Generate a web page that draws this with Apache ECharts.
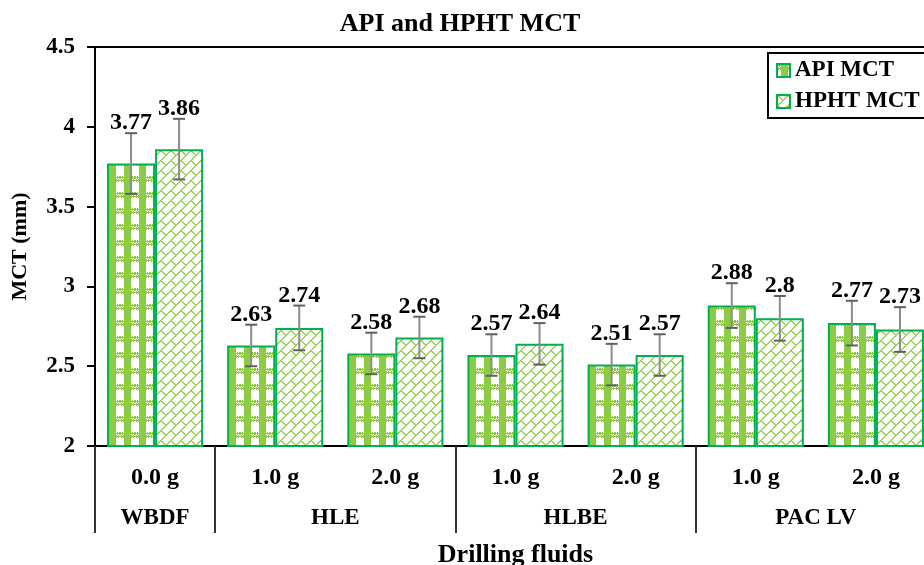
<!DOCTYPE html>
<html><head><meta charset="utf-8">
<script src="https://cdn.jsdelivr.net/npm/echarts@6/dist/echarts.min.js"></script>
<style>html,body{margin:0;padding:0;background:#fff;overflow:hidden}#c{width:924px;height:565px}</style>
</head><body><div id="c"></div>
<script>
const categories = ['0.0 g','1.0 g','2.0 g','1.0 g','2.0 g','1.0 g','2.0 g'];
const groupLabels = ['WBDF','HLE','HLBE','PAC LV'];
const apiValues = [3.77, 2.63, 2.58, 2.57, 2.51, 2.88, 2.77];
const hphtValues = [3.86, 2.74, 2.68, 2.64, 2.57, 2.80, 2.73];
const apiErrors = [0.19, 0.13, 0.13, 0.13, 0.13, 0.14, 0.14];
const hphtErrors = [0.19, 0.14, 0.13, 0.13, 0.13, 0.14, 0.14];
const yTicks = {min: 2, max: 4.5, interval: 0.5};

const FONT = '"Liberation Serif", "Times New Roman", serif';
const BORDER = '#00b050';

function makeApiPattern(){
  const W=15,H=16;
  const c = document.createElement('canvas'); c.width = W; c.height = H;
  const ctx = c.getContext('2d');
  const img = ctx.createImageData(W,H);
  for(let y=0;y<H;y++)for(let x=0;x<W;x++){
    let g=false;
    if(x>=4 && x<=10) g=true;
    if(y<6 && ((x+y)%2===0 || y===1 || y===4)) g=true;
    const i=(y*W+x)*4;
    if(g){img.data[i]=0x8c;img.data[i+1]=0xcc;img.data[i+2]=0x44;}
    else{img.data[i]=255;img.data[i+1]=255;img.data[i+2]=255;}
    img.data[i+3]=255;
  }
  ctx.putImageData(img,0,0);
  return c;
}
function makeHphtPattern(){
  const T=20,p=10,q=20;
  const c = document.createElement('canvas'); c.width=T; c.height=T;
  const ctx=c.getContext('2d');
  const img=ctx.createImageData(T,T);
  const mod=(a,b)=>((a%b)+b)%b;
  for(let y=0;y<T;y++)for(let x=0;x<T;x++){
    const u=x+y, v=x-y;
    let g = mod(u,p) < 1.5;
    const k=Math.floor(u/p);
    const off=(mod(k,2))*q/2;
    if(mod(v-off,q) < 1.5) g=true;
    const i=(y*T+x)*4;
    if(g){img.data[i]=0x9c;img.data[i+1]=0xd4;img.data[i+2]=0x5e;}
    else{img.data[i]=255;img.data[i+1]=255;img.data[i+2]=255;}
    img.data[i+3]=255;
  }
  ctx.putImageData(img,0,0);
  return c;
}
const apiFill = {image: makeApiPattern(), repeat: 'repeat'};
const hphtFill = {image: makeHphtPattern(), repeat: 'repeat'};

function errSeries(values, errors, offsetFrac){
  return {
    type: 'custom',
    xAxisIndex: 0,
    z: 5,
    silent: true,
    data: values.map((v,i)=>[i, v, errors[i]]),
    renderItem: function(params, api){
      const cat=api.value(0), v=api.value(1), e=api.value(2);
      const bw=api.size([1,0])[0];
      const x=api.coord([cat,v])[0] + offsetFrac*bw;
      const top=api.coord([cat,v+e])[1];
      const bot=api.coord([cat,v-e])[1];
      const hw=6;
      return {type:'group', children:[
        {type:'line', shape:{x1:x,y1:top,x2:x,y2:bot}, style:{stroke:'#8c8c8c', lineWidth:2}},
        {type:'line', shape:{x1:x-hw,y1:top,x2:x+hw,y2:top}, style:{stroke:'#606060', lineWidth:2}},
        {type:'line', shape:{x1:x-hw,y1:bot,x2:x+hw,y2:bot}, style:{stroke:'#606060', lineWidth:2}},
        {type:'text', x:x, y:top+2, style:{text:String(v), font:'bold 24px '+FONT, fill:'#000', align:'center', verticalAlign:'bottom'}}
      ]};
    }
  };
}

const chart = echarts.init(document.getElementById('c'));
chart.setOption({
  animation: false,
  backgroundColor: '#fff',
  title: {text:'API and HPHT MCT', left: 455, top: 6, textAlign:'center',
    textStyle:{fontFamily:FONT, fontWeight:'bold', fontSize:26, color:'#000'}},
  legend: {
    data:['API MCT','HPHT MCT'], orient:'vertical', left:768, top:53,
    backgroundColor:'#fff', borderColor:'#000', borderWidth:2, padding:[6,14,5,8],
    itemWidth:13, itemHeight:13, itemGap:8, icon:'rect',
    textStyle:{fontFamily:FONT, fontWeight:'bold', fontSize:23, color:'#000'}
  },
  grid: {left:95, right:-12, top:47, bottom:119, show:true, borderColor:'#000', borderWidth:2,
    backgroundColor:'transparent', containLabel:false, outerBoundsMode:'none'},
  xAxis: [
    {type:'category', data:categories, position:'bottom',
     axisLine:{lineStyle:{color:'#000', width:2}}, axisTick:{show:false},
     axisLabel:{fontFamily:FONT, fontWeight:'bold', fontSize:24, color:'#000', margin:20, interval:0}},
    {type:'value', min:0, max:7, position:'bottom', gridIndex:0,
     axisLine:{show:false}, splitLine:{show:false},
     axisTick:{show:true, customValues:[0,1,3,5,7], length:87, lineStyle:{color:'#333', width:2}},
     axisLabel:{customValues:[0.5,2,4,6], margin:61, fontFamily:FONT, fontWeight:'bold', fontSize:23, color:'#000',
       formatter:function(v){ const m={0.5:0,2:1,4:2,6:3}; return m[v]!==undefined? groupLabels[m[v]] : ''; }},
     name:'Drilling fluids', nameLocation:'middle', nameGap:96,
     nameTextStyle:{fontFamily:FONT, fontWeight:'bold', fontSize:26, color:'#000'}}
  ],
  yAxis: {type:'value', min:yTicks.min, max:yTicks.max, interval:yTicks.interval,
    axisLine:{show:true, lineStyle:{color:'#000', width:2}},
    axisTick:{show:true, length:8, lineStyle:{color:'#000', width:2}},
    splitLine:{show:false},
    axisLabel:{fontFamily:FONT, fontWeight:'bold', fontSize:23, color:'#000', margin:20},
    name:'MCT (mm)', nameLocation:'middle', nameGap:64,
    nameTextStyle:{fontFamily:FONT, fontWeight:'bold', fontSize:22, color:'#000'}},
  series: [
    {name:'API MCT', type:'bar', data:apiValues, barWidth:'40%', barGap:'0%',
     itemStyle:{color:apiFill, borderColor:BORDER, borderWidth:2}},
    {name:'HPHT MCT', type:'bar', data:hphtValues, barWidth:'40%', barGap:'0%',
     itemStyle:{color:hphtFill, borderColor:BORDER, borderWidth:2}},
    errSeries(apiValues, apiErrors, -0.2),
    errSeries(hphtValues, hphtErrors, 0.2)
  ]
});
</script></body></html>
